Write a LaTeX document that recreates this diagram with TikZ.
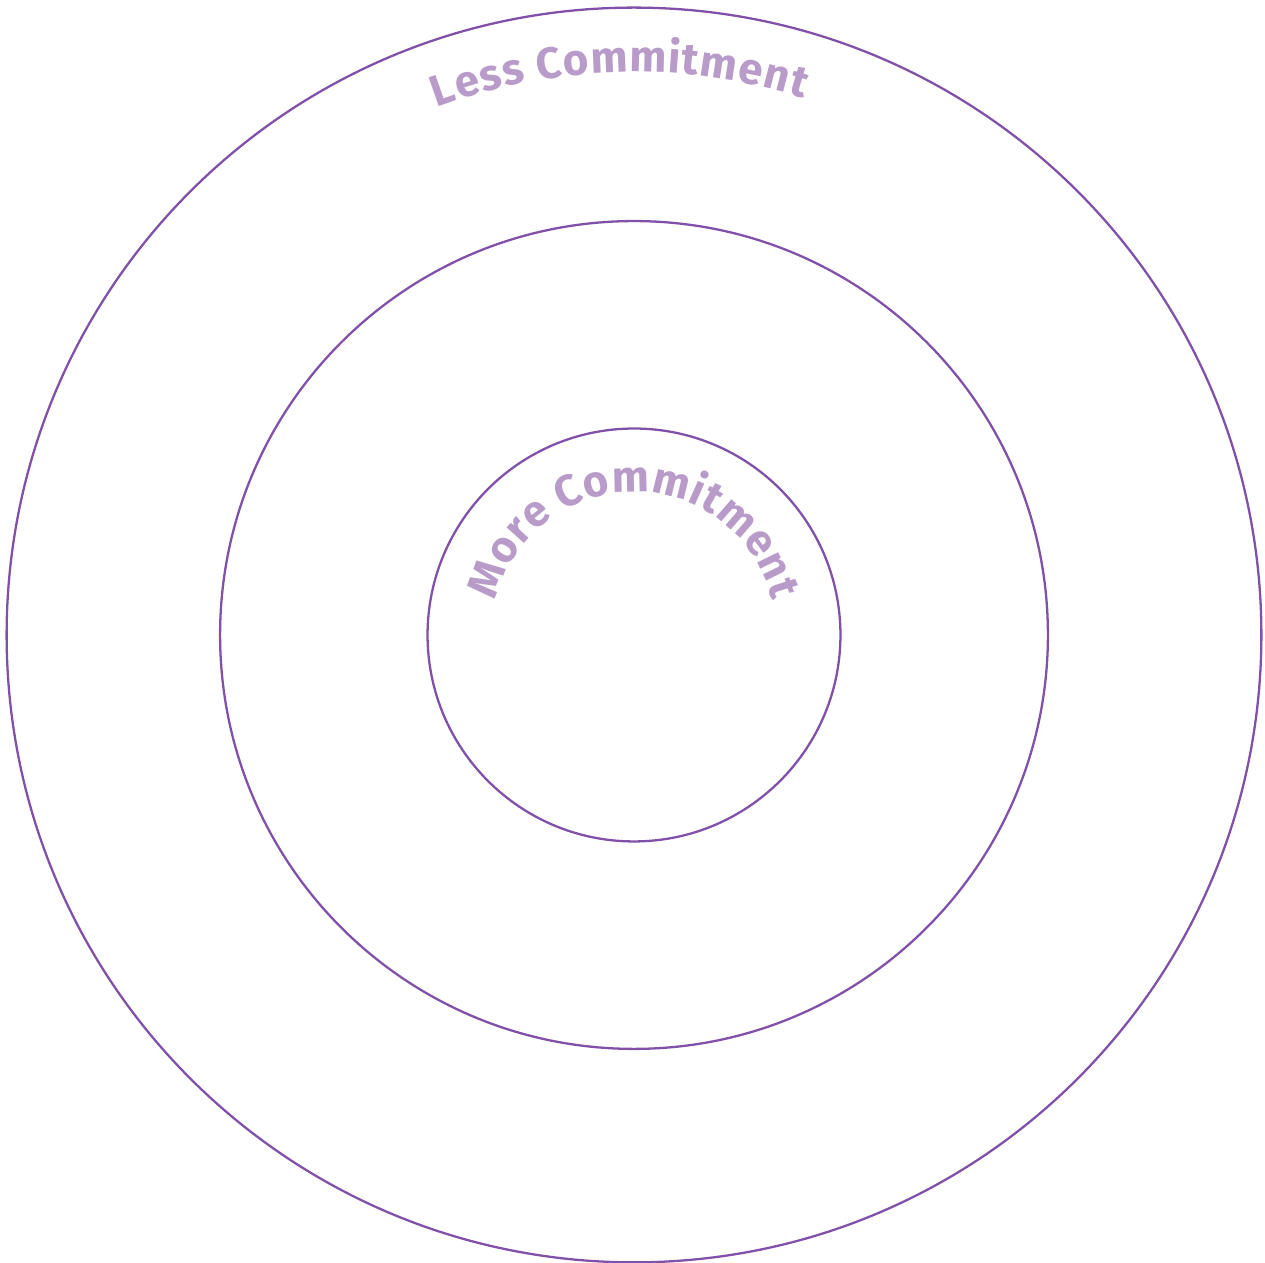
\documentclass[tikz,border=0pt]{standalone}
\usepackage{fontspec}
\newfontfamily\ringfont{Fira Sans}
\usetikzlibrary{decorations.text}
\definecolor{ringline}{HTML}{8150A8}
\definecolor{ringtext}{HTML}{B99BCA}

\begin{document}
\begin{tikzpicture}[
    x=0.02cm, y=0.02cm,
    ring/.style={circle, draw=ringline, line width=1.3pt, inner sep=0pt},
    arclabel/.style={decorate, decoration={text along path, text align={fit to path}, text color=ringtext}}
]
\useasboundingbox (0,0) rectangle (1265,1263);
\coordinate (centre) at (634,628);

\node[ring, minimum size=25.1cm] (outer) at (centre) {};
\node[ring, minimum size=16.56cm] (middle) at (centre) {};
\node[ring, minimum size=8.26cm] (inner) at (centre) {};

% curved labels
\path[arclabel, decoration={text={|\fontsize{25}{29}\selectfont\ringfont\bfseries|Less Commitment}}]
    ([shift={(110.5:563)}]centre) arc[start angle=110.5, end angle=72.5, radius=563];
\path[arclabel, decoration={text={|\fontsize{25}{29}\selectfont\ringfont\bfseries|More Commitment}}]
    ([shift={(166:143)}]centre) arc[start angle=166, end angle=14, radius=143];
\end{tikzpicture}
\end{document}
